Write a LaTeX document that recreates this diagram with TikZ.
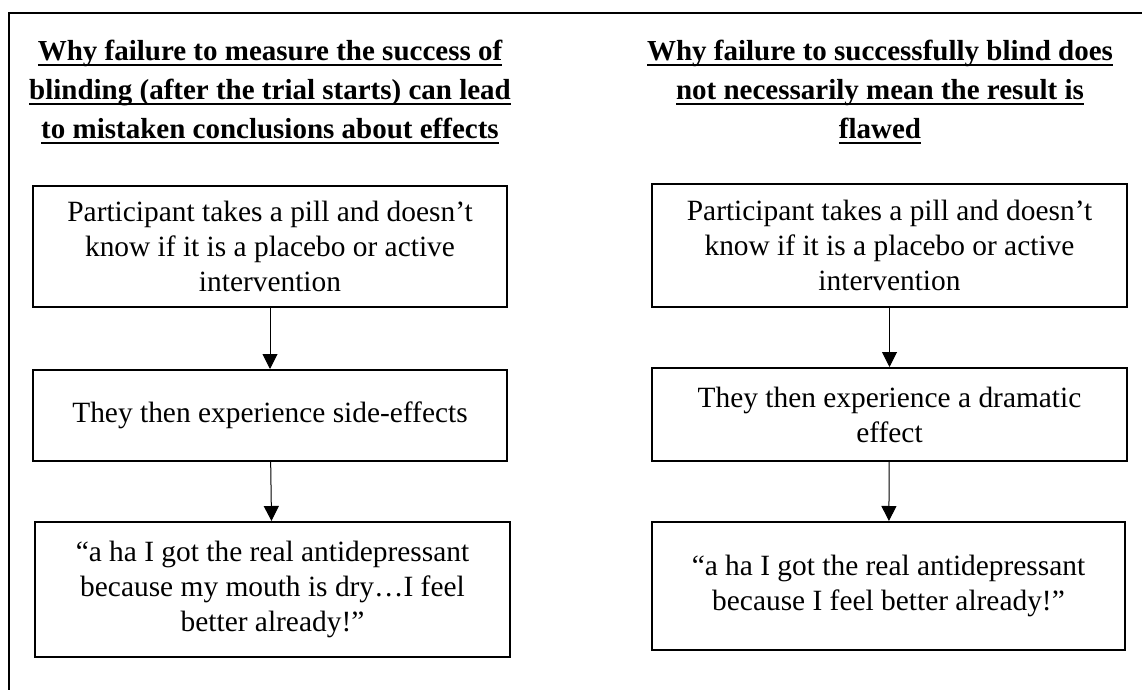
\documentclass[tikz,border=0pt]{standalone}
\usepackage{fontspec}
\setmainfont{Liberation Serif}
\newcommand{\uln}[1]{\setbox0\hbox{#1}\rlap{\rule[-2.5pt]{\wd0}{1pt}}\box0}
\usetikzlibrary{arrows.meta}
\tikzset{
	hop/.style={line width=0.5pt,-{Triangle[width=7.5pt,length=7.5pt]}},
	stepbox/.style={draw,line width=1pt,align=center,inner sep=0pt,font=\fontsize{14.7}{17.5}\selectfont},
	headline/.style={align=center,font=\fontsize{14.5}{19.5}\selectfont\bfseries}
}
\begin{document}
\begin{tikzpicture}[x=0.5pt,y=-0.5pt]
				\useasboundingbox (0,0) rectangle (1142,690);
				\draw[line width=1pt] (9,690)--(9,13)--(1142,13);
				\node[headline] (hl) at (270,92) {\uln{Why failure to measure the success of}\\\uln{blinding (after the trial starts) can lead}\\\uln{to mistaken conclusions about effects}};
				\node[headline] (hr) at (880,92) {\uln{Why failure to successfully blind does}\\\uln{not necessarily mean the result is}\\\uln{flawed}};
				\node[stepbox,minimum width=237pt,minimum height=60.5pt] (l1) at (270,246.5) {Participant takes a pill and doesn’t\\know if it is a placebo or active\\intervention};
				\node[stepbox,minimum width=237pt,minimum height=45.5pt] (l2) at (270,415.5) {They then experience side-effects};
				\node[stepbox,minimum width=237.5pt,minimum height=67.5pt] (l3) at (272.5,589.5) {“a ha I got the real antidepressant\\because my mouth is dry…I feel\\better already!”};
				\node[stepbox,minimum width=237.5pt,minimum height=61.5pt] (r1) at (889.5,245.5) {Participant takes a pill and doesn’t\\know if it is a placebo or active\\intervention};
				\node[stepbox,minimum width=237.5pt,minimum height=46.5pt] (r2) at (889.5,414.5) {They then experience a dramatic\\effect};
				\node[stepbox,minimum width=236.5pt,minimum height=64pt] (r3) at (888.5,586) {“a ha I got the real antidepressant\\because I feel better already!”};
				\foreach \a/\b in {l1/l2,l2/l3,r1/r2,r2/r3}
				\draw[hop] (\a)--(\b);
			\end{tikzpicture}
\end{document}
